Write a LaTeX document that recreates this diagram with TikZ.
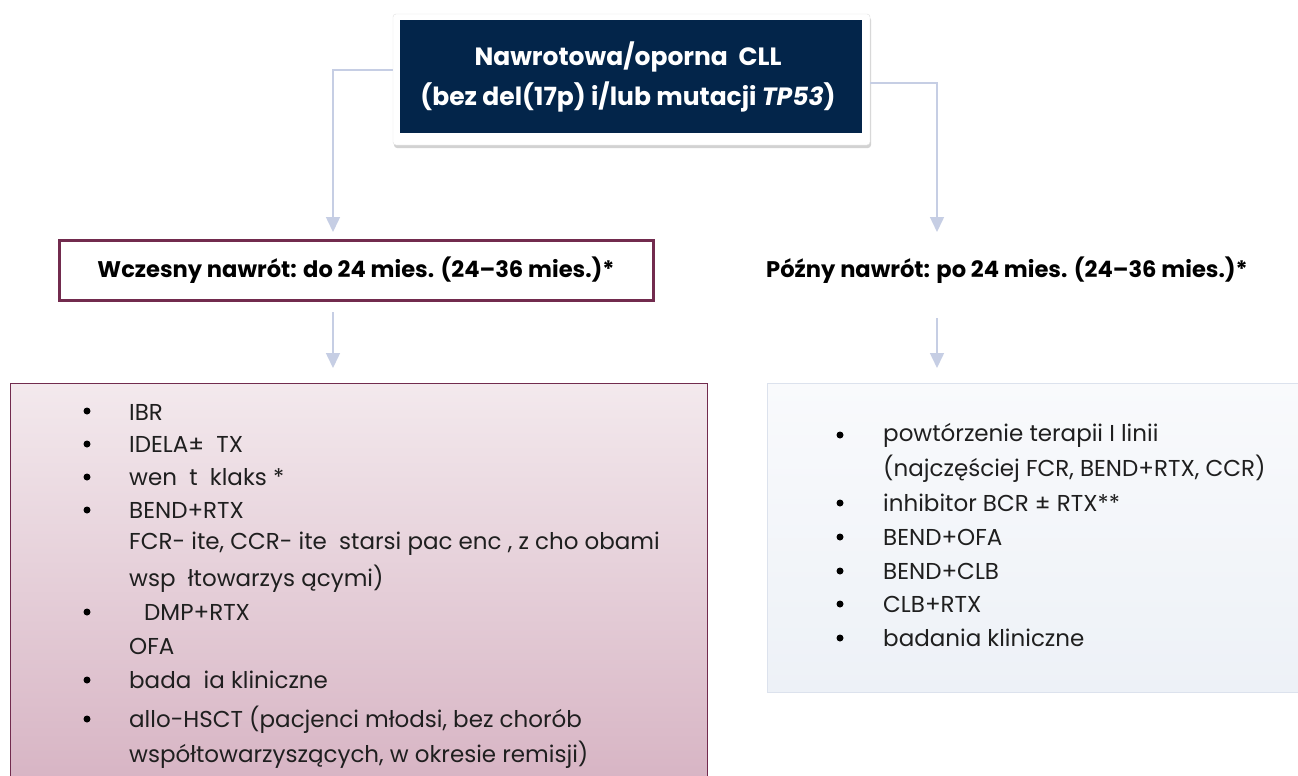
\documentclass[tikz,border=0pt]{standalone}
\usepackage{fontspec}
\setmainfont{Poppins}
\usetikzlibrary{shadows,arrows.meta}
\definecolor{navy}{HTML}{03254A}
\definecolor{maroon}{HTML}{722B4E}
\definecolor{conn}{HTML}{C6CEE4}
\definecolor{pinktop}{HTML}{F3E9ED}
\definecolor{pinkbot}{HTML}{D6B2C2}
\definecolor{bluetop}{HTML}{F9FAFC}
\definecolor{bluebot}{HTML}{EDF1F7}
\definecolor{bluebd}{HTML}{DCE2ED}
\tikzset{
  conn/.style={draw=conn, line width=1.5pt, -{Triangle[length=15pt,width=14pt]}},
  itemtext/.style={anchor=west, inner sep=0pt, text=black!88, font=\fontsize{23}{27}\selectfont},
  bul/.style={circle, fill=black, inner sep=0pt, minimum size=7pt},
  headtext/.style={inner sep=0pt, font=\bfseries\fontsize{22.6}{26}\selectfont},
}
\begin{document}
\begin{tikzpicture}[x=1pt,y=-1pt]
\useasboundingbox (0,0) rectangle (1298,776);
\clip (0,0) rectangle (1298,776);
\fill[white] (0,0) rectangle (1298,776);

% top box
\node[draw=black!12, fill=white, rounded corners=3pt, minimum width=477pt, minimum height=131pt,
      drop shadow={shadow xshift=1pt, shadow yshift=-3pt, opacity=0.35}] (topouter) at (631.5,79.5) {};
\node[fill=navy, minimum width=462pt, minimum height=113pt, inner sep=0pt] (top) at (631,76.5) {};
\node[text=white, font=\bfseries\fontsize{25}{40}\selectfont, align=center, inner sep=0pt] (toptext) at (628,77)
  {Nawrotowa/oporna\ \ CLL\\(bez del(17p) i/lub mutacji \textit{TP53})};

% early relapse box
\node[draw=maroon, line width=3pt, fill=white, minimum width=594pt, minimum height=60pt, inner sep=0pt,
      headtext] (early) at (356,270.5) {Wczesny nawrót: do 24 mies. (24–36 mies.)*};
% late relapse label
\node[headtext] (late) at (1007,270) {Późny nawrót: po 24 mies. (24–36 mies.)*};

% connectors from top
\coordinate (eTip) at (333,232);
\coordinate (lTip) at (937,232);
\draw[conn] (topouter.west |- 0,70) -| (eTip);
\draw[conn] (topouter.east |- 0,83) -| (lTip);

% list boxes
\shade[top color=pinktop, bottom color=pinkbot, draw=maroon, line width=1pt] (10,383) rectangle (707,800);
\node[minimum width=697pt, minimum height=417pt, inner sep=0pt] (earlybox) at (358.5,591.5) {};
\shade[top color=bluetop, bottom color=bluebot, draw=bluebd, line width=1pt] (767,383) rectangle (1310,692);
\node[minimum width=531pt, minimum height=309pt, inner sep=0pt] (latebox) at (1032.5,537.5) {};

% connectors down
\draw[conn] (333,312) -- (333,368);
\draw[conn] (937,318) -- (937,368);

% left items
\node[bul] (lb1) at (87,411) {};
\node[itemtext] (l1) at (129,412) {IBR};
\node[bul] (lb2) at (87,444) {};
\node[itemtext] (l2) at (129,444) {IDELA±\ \ TX};
\node[bul] (lb3) at (87,477) {};
\node[itemtext] (l3) at (129,477) {wen\ \ t\ \ klaks *};
\node[bul] (lb4) at (87,510) {};
\node[itemtext] (l4) at (129,510) {BEND+RTX};
\node[itemtext] (l5) at (129,544) {FCR- ite, CCR- ite\ \ starsi pac enc , z cho obami};
\node[itemtext] (l6) at (129,579) {wsp\ \ łtowarzys\ ącymi)};
\node[bul] (lb7) at (87,612) {};
\node[itemtext] (l7) at (144,612) {DMP+RTX};
\node[itemtext] (l8) at (129,646) {OFA};
\node[bul] (lb9) at (87,680) {};
\node[itemtext] (l9) at (129,680) {bada\ \ ia kliniczne};
\node[bul] (lb10) at (87,719) {};
\node[itemtext] (l10) at (129,720) {allo-HSCT (pacjenci młodsi, bez chorób};
\node[itemtext] (l11) at (129,755) {współtowarzyszących, w okresie remisji)};

% right items
\node[bul] (rb1) at (840,435) {};
\node[itemtext] (r1) at (883,435) {powtórzenie terapii I linii};
\node[itemtext] (r2) at (883,469) {(najczęściej FCR, BEND+RTX, CCR)};
\node[bul] (rb3) at (840,503) {};
\node[itemtext] (r3) at (883,503) {inhibitor BCR ± RTX**};
\node[bul] (rb4) at (840,537) {};
\node[itemtext] (r4) at (883,537) {BEND+OFA};
\node[bul] (rb5) at (840,571) {};
\node[itemtext] (r5) at (883,571) {BEND+CLB};
\node[bul] (rb6) at (840,604) {};
\node[itemtext] (r6) at (883,604) {CLB+RTX};
\node[bul] (rb7) at (840,638) {};
\node[itemtext] (r7) at (883,638) {badania kliniczne};
\end{tikzpicture}
\end{document}
